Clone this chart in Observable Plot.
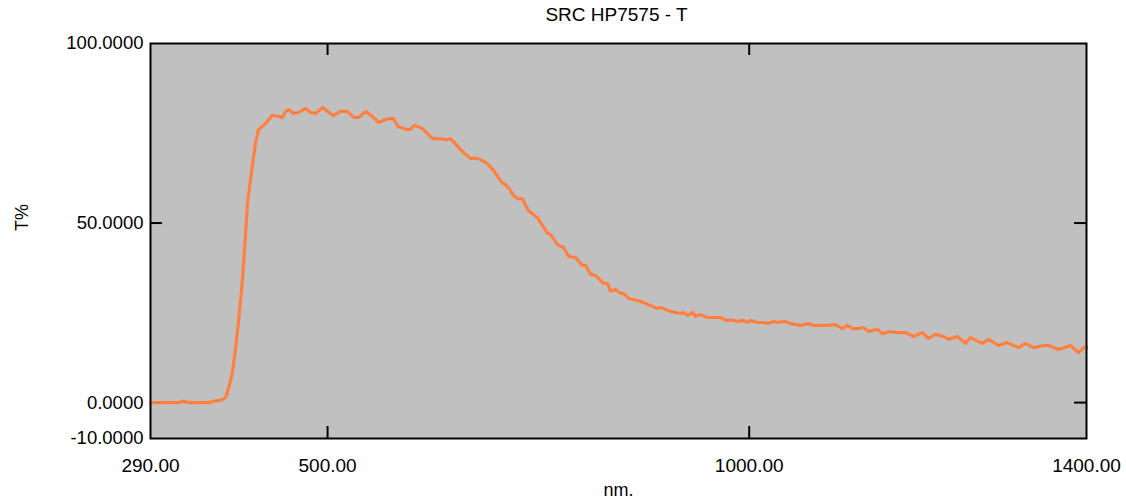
<!DOCTYPE html>
<html>
<head>
<meta charset="utf-8">
<script src="https://cdn.jsdelivr.net/npm/d3@7"></script>
<script src="https://cdn.jsdelivr.net/npm/@observablehq/plot@0.6"></script>
<style>
  html, body { margin: 0; padding: 0; background: #ffffff; }
  #chart svg { display: block; }
</style>
</head>
<body>
<div id="chart"></div>
<script>
const title = "SRC HP7575 - T";
const xLabel = "nm.";
const yLabel = "T%";

const wavelength = [
  290, 323, 329, 335, 359, 365, 373, 379, 382.5, 387, 391, 394.5, 399, 402.5, 405, 408.5,
  414.5, 418, 426.5, 434.5, 442, 446.5, 450, 454, 459.5, 465.5, 474, 480, 486, 494, 500,
  507, 515, 523.5, 531, 537, 545, 553, 560.5, 572, 578, 584, 595, 598, 603, 612.5, 624.5,
  634, 640, 646, 660, 669.5, 678, 689.5, 697, 705, 714.5, 720.5, 725, 731, 738, 749, 752.5,
  761, 764.5, 772.5, 780, 786, 794, 802, 806, 812, 818, 827, 832, 835.5, 841.5, 847.5, 851,
  857, 867.5, 874.5, 891, 895, 906.5, 918.5, 922, 927, 933, 936, 942, 950.5, 966, 972,
  981.5, 987, 993, 998, 1001.5, 1010, 1017, 1022, 1029, 1033.5, 1043, 1049, 1061, 1070,
  1076, 1093, 1102, 1110.5, 1116.5, 1122.5, 1129.5, 1135.5, 1141.5, 1152, 1158, 1167.5,
  1173.5, 1185.5, 1195, 1205.5, 1212.5, 1221, 1230.5, 1236.5, 1247, 1256.5, 1262.5, 1276.5,
  1284, 1295.5, 1306, 1319.5, 1327.5, 1337, 1349, 1355, 1367, 1381, 1390.5, 1396.5, 1400
];
const transmittance = [
  0, 0, 0.4, 0, 0, 0.4, 0.6, 1.4, 3.9, 8.1, 15.3, 22.8, 34.0, 46.0, 55.5, 62.0,
  72.3, 76.0, 77.7, 80.0, 79.7, 79.4, 81.1, 81.6, 80.5, 80.8, 81.9, 80.8, 80.5, 82.2, 81.1,
  79.9, 81.1, 81.1, 79.4, 79.4, 81.1, 79.7, 78.0, 79.1, 79.1, 76.8, 76.0, 76.0, 77.2, 76.3, 73.5,
  73.5, 73.2, 73.5, 69.9, 68.0, 68.0, 66.6, 64.6, 61.8, 59.9, 57.7, 56.8, 56.8, 53.5, 51.5, 50.2,
  47.1, 46.8, 44.0, 43.2, 40.7, 40.4, 38.2, 38.2, 35.7, 35.4, 33.2, 33.2, 31.0, 31.5, 30.4, 30.4,
  29.0, 28.4, 27.9, 26.2, 26.5, 25.4, 24.8, 25.1, 24.3, 25.1, 24.0, 24.5, 23.7, 23.7, 22.9,
  22.9, 22.6, 22.9, 22.3, 22.9, 22.3, 22.3, 22.0, 22.6, 22.3, 22.6, 22.0, 21.5, 22.0,
  21.5, 21.5, 21.7, 20.6, 21.5, 20.6, 20.6, 20.9, 19.8, 20.4, 19.2, 19.8,
  19.5, 19.5, 18.4, 19.5, 17.9, 19.0, 18.4, 17.6, 18.4, 16.5, 18.1, 16.5,
  17.6, 15.9, 16.7, 15.3, 16.5, 15.3, 15.9, 15.9, 14.8, 15.9, 13.9, 15.3, 15.3
];

const xTickLabels = [290, 500, 1000, 1400];
const xTickMarks = [500, 1000];
const yTickLabels = [-10, 0, 50, 100];
const yTickMarks = [0, 50];

const data = wavelength.map((w, i) => ({nm: w, t: transmittance[i]}));

const W = 1126, H = 499;
const mL = 150, mR = 40, mT = 43, mB = 61;
const plotW = W - mL - mR, plotH = H - mT - mB;
const tickLen = 12;
const font = "'Liberation Sans', Arial, sans-serif";

const chart = Plot.plot({
  width: W,
  height: H,
  marginLeft: mL,
  marginRight: mR,
  marginTop: mT,
  marginBottom: mB,
  style: {fontFamily: font, background: "#ffffff", color: "#000"},
  x: {domain: [290, 1400]},
  y: {domain: [-10, 100]},
  marks: [
    Plot.frame({fill: "#c0c0c0"}),
    // inward ticks
    Plot.tickX(xTickMarks, {x: d => d, stroke: "#000", strokeWidth: 2, insetTop: plotH - tickLen}),
    Plot.tickX(xTickMarks, {x: d => d, stroke: "#000", strokeWidth: 2, insetBottom: plotH - tickLen}),
    Plot.tickY(yTickMarks, {y: d => d, stroke: "#000", strokeWidth: 2, insetRight: plotW - tickLen}),
    Plot.tickY(yTickMarks, {y: d => d, stroke: "#000", strokeWidth: 2, insetLeft: plotW - tickLen}),
    Plot.line(data, {x: "nm", y: "t", stroke: "#ff8040", strokeWidth: 3.2, strokeLinejoin: "round"}),
    Plot.frame({stroke: "#000", strokeWidth: 2}),
    Plot.axisX({ticks: xTickLabels, tickFormat: d => d.toFixed(2), tickSize: 0, tickPadding: 20, fontSize: 19, label: null}),
    Plot.axisY({ticks: yTickLabels, tickFormat: d => d.toFixed(4), tickSize: 0, tickPadding: 7, fontSize: 18.5, label: null}),
    Plot.text([title], {frameAnchor: "top", dy: -29, dx: -2, fontSize: 19, lineAnchor: "middle", letterSpacing: "-0.4px"}),
    Plot.text([xLabel], {frameAnchor: "bottom", dy: 52, fontSize: 18, lineAnchor: "middle"}),
    Plot.text([yLabel], {frameAnchor: "left", dx: -128, dy: -10, rotate: -90, fontSize: 18, lineAnchor: "middle"})
  ]
});
document.getElementById("chart").appendChild(chart);
</script>
</body>
</html>
